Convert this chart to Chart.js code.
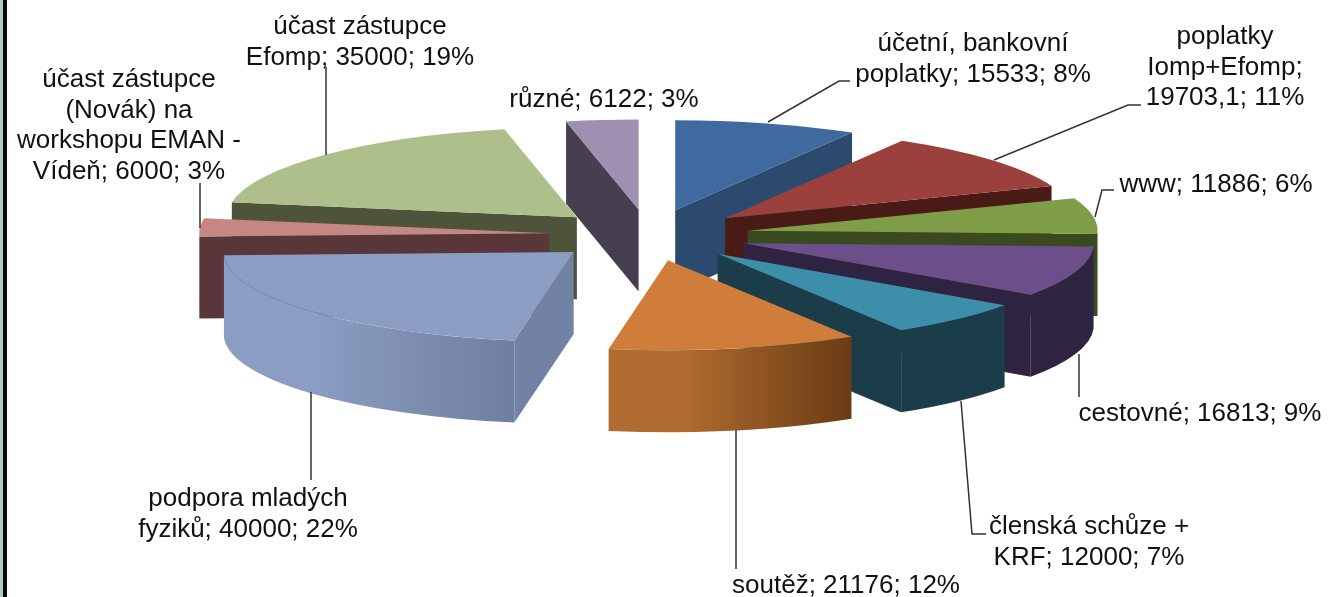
<!DOCTYPE html>
<html lang="cs">
<head>
<meta charset="utf-8">
<title>Výdaje</title>
<script src="https://cdn.jsdelivr.net/npm/chart.js@4"></script>
<style>
    html, body { margin: 0; padding: 0; background: #fff; overflow: hidden; }
    #wrap { position: relative; width: 1328px; height: 597px; }
    #edge { position: absolute; left: 0; top: 0; bottom: 0; width: 3px; background: #b4c8cc; border-right: 4px solid #0a0a0a; }
</style>
</head>
<body>
<div id="wrap">
    <canvas id="pie" width="1328" height="597"></canvas>
    <div id="edge"></div>
</div>
<script>
// Data
const categories = [
    'účetní, bankovní\npoplatky', 'poplatky\nIomp+Efomp', 'www', 'cestovné',
    'členská schůze +\nKRF', 'soutěž', 'podpora mladých\nfyziků',
    'účast zástupce\n(Novák) na\nworkshopu EMAN -\nVídeň', 'účast zástupce\nEfomp', 'různé'
];
const amounts = [15533, 19703.1, 11886, 16813, 12000, 21176, 40000, 6000, 35000, 6122];
const percents = [8, 11, 6, 9, 7, 12, 22, 3, 19, 3];

// Colours
const topColors = ['#3f6a9f', '#9b403d', '#7f9d47', '#6c4e8a', '#3d8fa9', '#d07c3a', '#8b9dc3', '#c58786', '#afbf8c', '#9f8fb1'];
const wallColors = ['#2b4a6e', '#4a1a16', '#3a4a20', '#2e2340', '#1b3d4a', '#a8652d', '#7282a5', '#583639', '#4e543a', '#463f50'];
const rimLeftColors = ['#2b4a6e', '#4a1a16', '#3a4a20', '#2e2340', '#1b3d4a', '#b06b30', '#8b9dc3', '#583639', '#4e543a', '#463f50'];
const rimRightColors = ['#2b4a6e', '#4a1a16', '#3a4a20', '#2e2340', '#1b3d4a', '#6a3c14', '#6f7fa0', '#583639', '#4e543a', '#463f50'];

// Layout of the tilted pie
const pieX = 649, pieY = 235, squash = 0.257, depth = 82, radius = 350, explode = 100;

// Label centres (first line) and leader lines
const labelPos = [[973, 44], [1225, 37], [1216, 185], [1200, 414], [1089, 527], [846, 586], [248, 499], [129, 80], [360, 27], [604, 100]];
const lineHeight = 30.5;
const leaders = [
    [[850, 81], [839, 81], [768, 122]],
    [[1141, 105], [1128, 105], [994, 160]],
    [[1114, 190], [1102, 190], [1095, 217]],
    [[1079, 354], [1079, 397]],
    [[961, 401], [972, 534], [986, 534]],
    [[736, 430], [736, 569]],
    [[311, 392], [311, 480]],
    [[200, 183], [200, 228]],
    [[326, 67], [326, 155]]
];

function labelLines(i) {
    const sep = i === 1 ? ';\n' : '; ';
    const value = String(amounts[i]).replace('.', ',');
    return (categories[i] + sep + value + '; ' + percents[i] + '%').split('\n');
}

// Draws one slice: visible side faces first, then the library's arc squashed on top
function drawSlice(ctx, arc, i) {
    const p = arc.getProps(['x', 'y', 'startAngle', 'endAngle', 'outerRadius']);
    const mid = (p.startAngle + p.endAngle) / 2;
    const ax = pieX + Math.cos(mid) * explode;
    const ay = pieY + Math.sin(mid) * explode * squash;
    const rx = p.outerRadius, ry = p.outerRadius * squash;

    // outer rim, only the part facing the viewer
    const a0 = Math.max(p.startAngle, 0), a1 = Math.min(p.endAngle, Math.PI);
    if (a1 > a0) {
        const g = ctx.createLinearGradient(ax + rx * Math.cos(a1), 0, ax + rx * Math.cos(a0), 0);
        g.addColorStop(0, rimLeftColors[i]);
        g.addColorStop(0.3, rimLeftColors[i]);
        g.addColorStop(1, rimRightColors[i]);
        ctx.fillStyle = g;
        ctx.beginPath();
        ctx.ellipse(ax, ay, rx, ry, 0, a0, a1);
        ctx.ellipse(ax, ay + depth, rx, ry, 0, a1, a0, true);
        ctx.closePath();
        ctx.fill();
    }

    // cut faces
    ctx.fillStyle = wallColors[i];
    const cuts = [];
    if (Math.cos(p.startAngle) < 0) cuts.push(p.startAngle);
    if (Math.cos(p.endAngle) > 0) cuts.push(p.endAngle);
    cuts.forEach(a => {
        const ex = ax + rx * Math.cos(a), ey = ay + ry * Math.sin(a);
        ctx.beginPath();
        ctx.moveTo(ax, ay);
        ctx.lineTo(ex, ey);
        ctx.lineTo(ex, ey + depth);
        ctx.lineTo(ax, ay + depth);
        ctx.closePath();
        ctx.fill();
    });

    // top face
    ctx.save();
    ctx.translate(ax, ay);
    ctx.scale(1, squash);
    ctx.translate(-p.x, -p.y);
    arc.draw(ctx);
    ctx.restore();
}

const tiltedPie = {
    id: 'tiltedPie',
    beforeDatasetDraw(chart, args) {
        const ctx = chart.ctx;
        const arcs = args.meta.data;
        const midSin = arc => Math.sin((arc.startAngle + arc.endAngle) / 2);
        const order = arcs.map((arc, i) => i).sort((a, b) => midSin(arcs[a]) - midSin(arcs[b]));
        order.forEach(i => drawSlice(ctx, arcs[i], i));
        return false;
    },
    afterDraw(chart) {
        const ctx = chart.ctx;
        ctx.save();
        ctx.strokeStyle = '#333';
        ctx.lineWidth = 1.5;
        leaders.forEach(pts => {
            ctx.beginPath();
            pts.forEach(([x, y], n) => n ? ctx.lineTo(x, y) : ctx.moveTo(x, y));
            ctx.stroke();
        });
        ctx.fillStyle = '#111';
        ctx.font = '26px "Liberation Sans", Arial, sans-serif';
        ctx.textAlign = 'center';
        ctx.textBaseline = 'middle';
        categories.forEach((c, i) => {
            labelLines(i).forEach((line, n) => {
                ctx.fillText(line, labelPos[i][0], labelPos[i][1] + n * lineHeight);
            });
        });
        ctx.restore();
    }
};

new Chart(document.getElementById('pie'), {
    type: 'pie',
    data: {
        labels: categories,
        datasets: [{
            data: amounts,
            backgroundColor: topColors,
            borderWidth: 0,
            clip: false
        }]
    },
    options: {
        responsive: false,
        animation: false,
        radius: radius,
        plugins: { legend: { display: false }, tooltip: { enabled: false } }
    },
    plugins: [tiltedPie]
});
</script>
</body>
</html>
